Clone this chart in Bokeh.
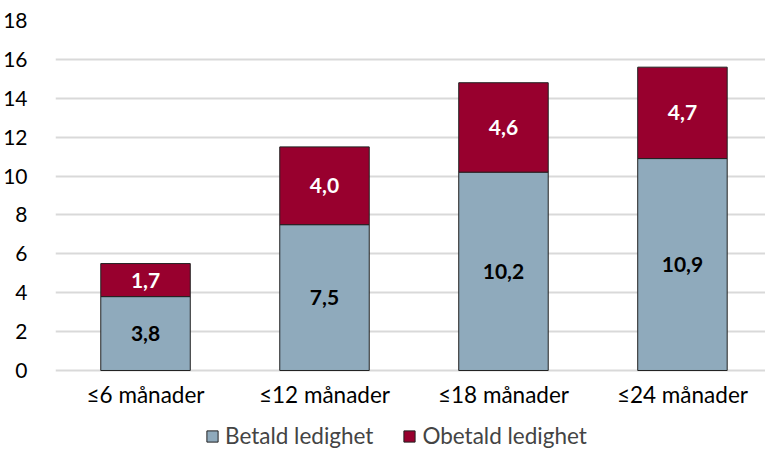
from bokeh.plotting import figure
from bokeh.models import ColumnDataSource, Legend, Range1d, FixedTicker, LegendItem
from bokeh.embed import file_html
from bokeh.resources import INLINE
from bokeh.core.properties import value

categories = ["≤6 månader", "≤12 månader", "≤18 månader", "≤24 månader"]
betald = [3.8, 7.5, 10.2, 10.9]
obetald = [1.7, 4.0, 4.6, 4.7]
y_ticks = [0, 2, 4, 6, 8, 10, 12, 14, 16, 18]
series_names = ["Betald ledighet", "Obetald ledighet"]

BLUE = "#8FAABC"
RED = "#98002E"
FONT = "Lato"
FS = "21px"
FS_CAT = "22.5px"

xs = list(range(1, len(categories) + 1))
src = ColumnDataSource(dict(
    x=xs,
    top_b=betald,
    top_o=[b + o for b, o in zip(betald, obetald)],
    mid_b=[b / 2 for b in betald],
    mid_o=[b + o / 2 for b, o in zip(betald, obetald)],
    lab_b=[f"{v:.1f}".replace(".", ",") for v in betald],
    lab_o=[f"{v:.1f}".replace(".", ",") for v in obetald],
    cat=categories,
    cat_y=[-1.23] * len(categories),
))

p = figure(width=765, height=449, output_backend="svg", toolbar_location=None,
           x_range=Range1d(0.497, 4.464), y_range=Range1d(-4.063, 18),
           min_border_left=55, min_border_right=0, min_border_top=20, min_border_bottom=0)
p.outline_line_color = None

rb = p.vbar(x="x", bottom=0, top="top_b", width=0.5, source=src,
            fill_color=BLUE, line_color="#222222", line_width=1)
ro = p.vbar(x="x", bottom="top_b", top="top_o", width=0.5, source=src,
            fill_color=RED, line_color="#222222", line_width=1)

p.text(x="x", y="mid_b", text="lab_b", source=src, text_align="center", text_baseline="middle",
       text_font=value(FONT), text_font_size=FS, text_font_style="bold", text_color="black")
p.text(x="x", y="mid_o", text="lab_o", source=src, text_align="center", text_baseline="middle",
       text_font=value(FONT), text_font_size=FS, text_font_style="bold", text_color="white")
p.text(x="x", y="cat_y", text="cat", source=src, text_align="center", text_baseline="middle",
       text_font=value(FONT), text_font_size=FS_CAT, text_color="black")

p.xgrid.grid_line_color = None
p.ygrid.grid_line_color = "#D9D9D9"
p.ygrid.grid_line_width = 2
p.yaxis.ticker = FixedTicker(ticks=y_ticks)
p.xaxis.visible = False

p.yaxis.major_tick_line_color = None
p.yaxis.minor_tick_line_color = None
p.yaxis.major_label_text_font = FONT
p.yaxis.major_label_text_font_size = FS
p.yaxis.major_label_text_color = "#000000"
p.yaxis.axis_line_color = None
p.yaxis.major_label_standoff = 22

legend = Legend(items=[LegendItem(label=series_names[0], renderers=[rb]),
                       LegendItem(label=series_names[1], renderers=[ro])],
                orientation="horizontal", location=(150, 0),
                label_text_font=FONT, label_text_font_size=FS_CAT,
                glyph_width=14, glyph_height=14, spacing=29, label_standoff=6,
                border_line_color=None, background_fill_alpha=0, padding=0, margin=0)
p.add_layout(legend)

open("out.html", "w").write(file_html(p, INLINE))
